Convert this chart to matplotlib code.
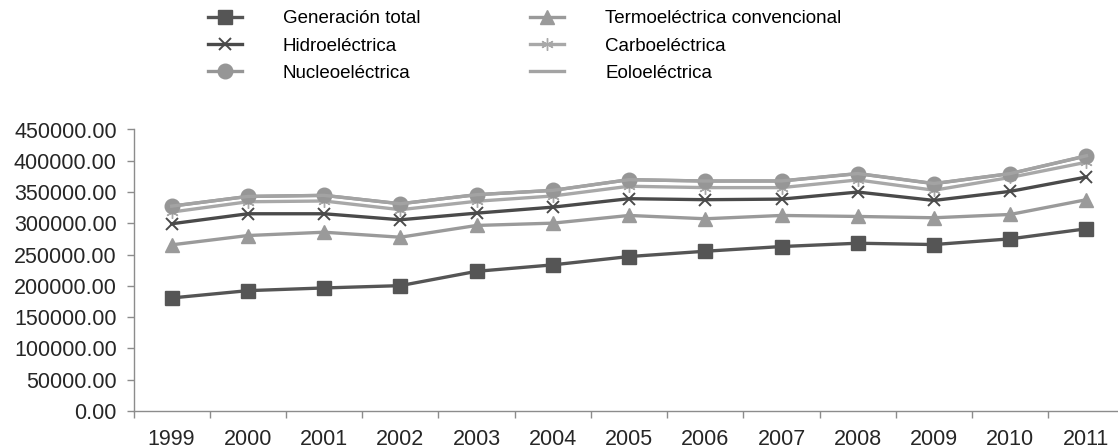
import numpy as np
import matplotlib
matplotlib.use("Agg")
import matplotlib.pyplot as plt
from matplotlib.ticker import FixedLocator, FormatStrFormatter

plt.rcParams['font.family'] = ['Liberation Sans', 'DejaVu Sans']

# Series values (stacked line chart, each series added on top of the previous one)
years = ["1999", "2000", "2001", "2002", "2003", "2004", "2005",
         "2006", "2007", "2008", "2009", "2010", "2011"]
generacion_total = [180700, 192400, 196700, 200400, 223300, 233600, 246900,
                    255400, 262900, 268200, 266100, 275200, 291300]
termoelectrica = [84900, 88100, 89100, 77400, 73300, 66700, 65700,
                  51900, 49700, 42800, 42800, 39000, 46500]
hidroelectrica = [33700, 34800, 29500, 27900, 19700, 25600, 26800,
                  30500, 26100, 39000, 27700, 36900, 36200]
carboelectrica = [18700, 19200, 20400, 16100, 19000, 17800, 19900,
                  19300, 18400, 19400, 16300, 22300, 23700]
nucleoelectrica = [9500, 8500, 9000, 9500, 10500, 9000, 10500,
                   10500, 10500, 10000, 10500, 6000, 10000]
eoloelectrica = [0, 0, 0, 0, 0, 0, 0,
                 50, 250, 250, 250, 170, 320]

series = [
    ("Generación total", generacion_total, dict(color="#555555", marker="s", ms=9.5, mec="#555555")),
    ("Termoeléctrica convencional", termoelectrica, dict(color="#9a9a9a", marker="^", ms=10, mec="#9a9a9a")),
    ("Hidroeléctrica", hidroelectrica, dict(color="#4a4a4a", marker="x", ms=9, mew=1.4)),
    ("Carboeléctrica", carboelectrica, dict(color="#a8a8a8", marker=(6, 2, 0), ms=9, mew=1.0)),
    ("Nucleoeléctrica", nucleoelectrica, dict(color="#969696", marker="o", ms=10.5, mec="#969696")),
    ("Eoloeléctrica", eoloelectrica, dict(color="#a3a3a3")),
]

x = np.arange(len(years))
stacked = np.cumsum(np.array([s[1] for s in series]), axis=0)

fig = plt.figure(figsize=(11.18, 4.48), dpi=100)
ax = fig.add_axes([133.5 / 1118, 37 / 448, (1124.6 - 133.5) / 1118, (411 - 129.5) / 448])

handles = []
for (label, _, style), yvals in zip(series, stacked):
    h, = ax.plot(x, yvals, lw=2.4, label=label, **style)
    handles.append(h)

ax.set_xlim(-0.5, len(years) - 0.5)
ax.set_ylim(0, 450000)
ax.set_yticks(np.arange(0, 450001, 50000))
ax.yaxis.set_major_formatter(FormatStrFormatter("%.2f"))
ax.set_xticks(x)
ax.set_xticklabels(years)
ax.xaxis.set_minor_locator(FixedLocator(np.arange(-0.5, len(years), 1)))

for side in ("top", "right"):
    ax.spines[side].set_visible(False)
for side in ("left", "bottom"):
    ax.spines[side].set_color("#8c8c8c")
    ax.spines[side].set_linewidth(1.0)

ax.tick_params(axis="y", length=5, width=1, color="#8c8c8c", pad=7,
               labelsize=15.5, labelcolor="#262626")
ax.tick_params(axis="x", which="major", length=0, pad=13,
               labelsize=15.5, labelcolor="#262626")
ax.tick_params(axis="x", which="minor", length=5, width=1, color="#8c8c8c")

# legend order in the reference: column-wise pairs
order = [0, 2, 4, 1, 3, 5]
fig.legend([handles[i] for i in order], [series[i][0] for i in order],
           loc="upper left", bbox_to_anchor=(208 / 1118, 1 - 10 / 448),
           ncol=2, frameon=False, fontsize=13.5, handlelength=1.8,
           handletextpad=2.2, columnspacing=5.85, labelspacing=0.55,
           borderpad=0, borderaxespad=0)

fig.savefig("out.png", dpi=100)
